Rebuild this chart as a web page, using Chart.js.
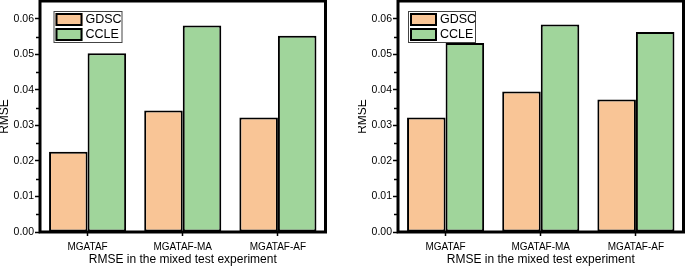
<!DOCTYPE html>
<html>
<head>
<meta charset="utf-8">
<script src="https://cdn.jsdelivr.net/npm/chart.js@4"></script>
<style>
  body { margin: 0; background: #fff; overflow: hidden; }
  canvas { position: absolute; top: 0; }
</style>
</head>
<body>
<canvas id="chart-left" width="327" height="267" style="left:0"></canvas>
<canvas id="chart-right" width="327" height="267" style="left:358px"></canvas>
<script>
// --- data ---
const categories = ['MGATAF', 'MGATAF-MA', 'MGATAF-AF'];
const seriesNames = ['GDSC', 'CCLE'];
const leftGdsc = [0.0226, 0.0342, 0.0322];
const leftCcle = [0.0503, 0.0581, 0.0552];
const rightGdsc = [0.0322, 0.0395, 0.0373];
const rightCcle = [0.0532, 0.0584, 0.0563];
const yMax = 0.065;
const yStep = 0.01;
const xTitle = 'RMSE in the mixed test experiment';
const yTitle = 'RMSE';

const colors = ['#f9c596', '#a0d59b'];
const fontFamily = '"Liberation Sans", Arial, sans-serif';

// thick black box round the plot area
const frameBox = {
    id: 'frameBox',
    afterDraw(chart) {
        const { ctx, chartArea } = chart;
        ctx.save();
        ctx.strokeStyle = '#000';
        ctx.lineWidth = 3;
        ctx.strokeRect(chartArea.left, chartArea.top, chartArea.right - chartArea.left, chartArea.bottom - chartArea.top);
        ctx.restore();
    }
};

// short minor ticks half way between the major ones
const minorTicks = {
    id: 'minorTicks',
    afterDraw(chart) {
        const { ctx, chartArea, scales } = chart;
        const y = scales.y;
        ctx.save();
        ctx.strokeStyle = '#000';
        ctx.lineWidth = 1.5;
        y.ticks.forEach(t => {
            const v = t.value + yStep / 2;
            if (v >= y.max) return;
            const py = Math.round(y.getPixelForValue(v)) + 0.5;
            ctx.beginPath();
            ctx.moveTo(chartArea.left - 4, py);
            ctx.lineTo(chartArea.left, py);
            ctx.stroke();
        });
        ctx.restore();
    }
};

// boxed legend sitting inside the plot, top left
const legendBox = {
    id: 'legendBox',
    afterDatasetsDraw(chart, args, opts) {
        const { ctx, chartArea } = chart;
        const x = chartArea.left + opts.dx;
        const y = chartArea.top + 10;
        ctx.save();
        ctx.fillStyle = '#fff';
        ctx.fillRect(x, y, opts.w, 31);
        ctx.strokeStyle = '#444';
        ctx.lineWidth = 1;
        ctx.strokeRect(x + 0.5, y + 0.5, opts.w, 31);
        chart.data.datasets.forEach((ds, i) => {
            const sy = y + 2 + i * 15;
            ctx.fillStyle = ds.backgroundColor;
            ctx.fillRect(x + 2, sy, 27, 13);
            ctx.strokeStyle = '#000';
            ctx.lineWidth = 2;
            ctx.strokeRect(x + 3, sy + 1, 25, 11);
            ctx.fillStyle = '#000';
            ctx.font = '12.5px ' + fontFamily;
            ctx.textBaseline = 'middle';
            ctx.fillText(ds.label, x + 32, sy + 7);
        });
        ctx.restore();
    }
};

function makeChart(id, gdsc, ccle, opt) {
    const ctx = document.getElementById(id).getContext('2d');
    const datasets = [gdsc, ccle].map((data, i) => ({
        label: seriesNames[i],
        data: data,
        backgroundColor: colors[i],
        borderColor: '#000',
        borderWidth: 2,
        borderSkipped: false,
        categoryPercentage: 0.81,
        barPercentage: 1
    }));

    return new Chart(ctx, {
        type: 'bar',
        data: { labels: categories, datasets },
        options: {
            responsive: false,
            animation: false,
            layout: { autoPadding: false, padding: { left: 0, right: 1.5, top: 1, bottom: 0 } },
            plugins: {
                legend: { display: false },
                tooltip: { enabled: false },
                legendBox: { dx: opt.legendDx, w: opt.legendW }
            },
            scales: {
                x: {
                    grid: { drawOnChartArea: false, offset: false, tickLength: 4, tickColor: '#000', tickWidth: 1.5 },
                    border: { display: false },
                    ticks: { color: '#000', font: { family: fontFamily, size: 10 }, padding: 5, maxRotation: 0 },
                    title: { display: true, text: xTitle, color: '#000', font: { family: fontFamily, size: 12 }, padding: { top: 0, bottom: 0 } },
                    afterFit(scale) { scale.height = 35; scale.paddingLeft = 0; scale.paddingRight = 0; }
                },
                y: {
                    min: 0,
                    max: yMax,
                    grid: { drawOnChartArea: false, tickLength: 5, tickColor: '#000', tickWidth: 1.5 },
                    border: { display: false },
                    ticks: {
                        stepSize: yStep,
                        includeBounds: false,
                        color: '#000',
                        font: { family: fontFamily, size: 10.5 },
                        padding: 1,
                        callback: v => v.toFixed(2)
                    },
                    title: { display: true, text: yTitle, color: '#000', font: { family: fontFamily, size: 12 }, padding: { top: opt.yTitlePad, bottom: 0 } },
                    afterFit(scale) { scale.width = 40; scale.paddingTop = 0; scale.paddingBottom = 0; }
                }
            }
        },
        plugins: [legendBox, minorTicks, frameBox]
    });
}

makeChart('chart-left', leftGdsc, leftCcle, { legendDx: 13.5, legendW: 68, yTitlePad: -2.5 });
makeChart('chart-right', rightGdsc, rightCcle, { legendDx: 10, legendW: 67, yTitlePad: -2.5 });
</script>
</body>
</html>
